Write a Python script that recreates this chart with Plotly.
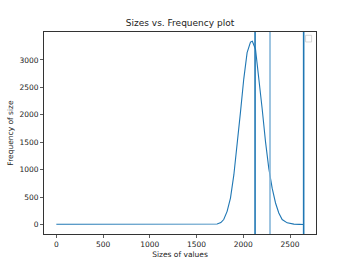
import plotly.graph_objects as go

sizes = [0, 500, 1000, 1500, 1700, 1720, 1760, 1791, 1827, 1863, 1899, 1935, 1970, 2005,
         2041, 2077, 2097, 2131, 2166, 2202, 2238, 2273, 2309, 2345, 2380, 2416, 2470,
         2541, 2600, 2646]
freq = [10, 10, 10, 10, 12, 15, 40, 96, 245, 487, 907, 1448, 2049, 2651,
        3131, 3324, 3340, 3192, 2711, 2110, 1508, 1028, 667, 397, 216, 96, 36,
        12, 8, 6]
vline_pos = [2126, 2286, 2646]
vline_colors = ["#1f77b4", "#86b6d9", "#1f77b4"]

W, H = 350, 263
L, R, T, B = 44, 315.7, 31.7, 234.3

fig = go.Figure()
fig.add_trace(go.Scatter(x=sizes, y=freq, mode="lines",
                         line=dict(color="#1f77b4", width=1.1), showlegend=False))
for xv, c in zip(vline_pos, vline_colors):
    fig.add_trace(go.Scatter(x=[xv, xv], y=[-167, 3507], mode="lines",
                             line=dict(color=c, width=1.6), showlegend=False))

font = dict(family="DejaVu Sans", size=7.5, color="#222")
axis_common = dict(showgrid=False, zeroline=False, showline=True, mirror=True,
                   linecolor="#333", linewidth=1, ticks="outside", ticklen=3,
                   tickcolor="#333", tickwidth=0.8, tickfont=font, automargin=False)
fig.update_layout(
    width=W, height=H,
    margin=dict(l=L, r=W - R, t=T, b=H - B, autoexpand=False),
    paper_bgcolor="white", plot_bgcolor="white",
    title=dict(text="Sizes vs. Frequency plot", x=0.5, xref="paper",
               y=1 - 23 / H, yref="container", yanchor="middle", xanchor="center",
               font=dict(family="DejaVu Sans", size=9, color="#222")),
    xaxis=dict(range=[-132, 2778], tickvals=[0, 500, 1000, 1500, 2000, 2500],
               title=dict(text="Sizes of values", font=font, standoff=3), **axis_common),
    yaxis=dict(range=[-167, 3507], tickvals=[0, 500, 1000, 1500, 2000, 2500, 3000],
               title=dict(text="Frequency of size", font=font, standoff=4), **axis_common),
    showlegend=False,
)
# empty legend box
fig.add_shape(type="rect", xref="paper", yref="paper",
              x0=(305.3 - L) / (R - L), x1=(311.3 - L) / (R - L),
              y0=1 - (41.7 - T) / (B - T), y1=1 - (35 - T) / (B - T),
              line=dict(color="#ccc", width=0.8), fillcolor="white")
fig.write_html("out.html", config={"displayModeBar": False, "staticPlot": True})

with open("out.html", "r", encoding="utf-8") as f:
    html = f.read()
html = html.replace("<head>", "<head><style>html,body{margin:0;padding:0;overflow:hidden;}</style>", 1)
with open("out.html", "w", encoding="utf-8") as f:
    f.write(html)
